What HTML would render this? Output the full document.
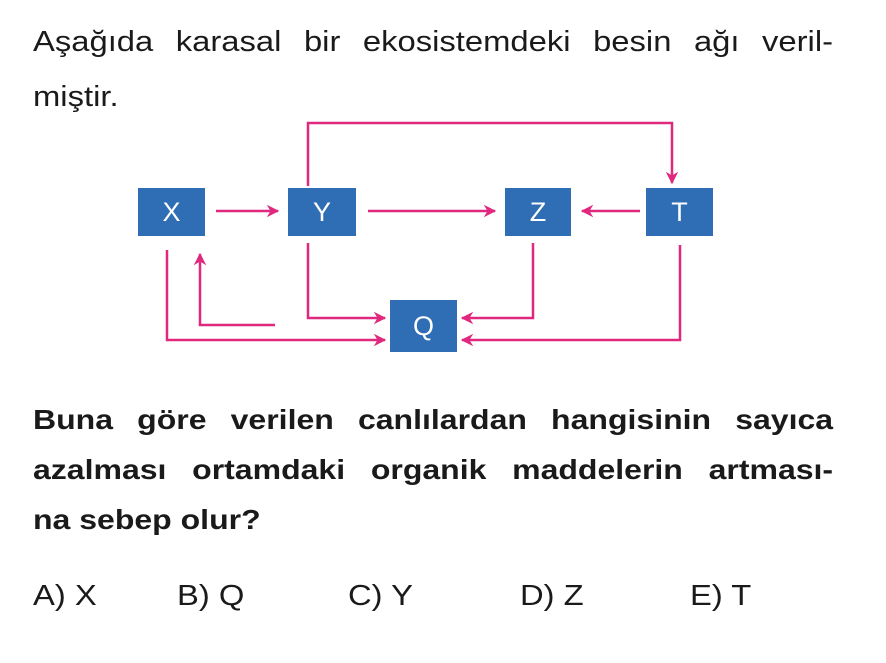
<!DOCTYPE html>
<html><head><meta charset="utf-8"><style>
body{margin:0;width:886px;height:663px;background:#fff;position:relative;font-family:"Liberation Sans",Arial,sans-serif;color:#1a1a1a;overflow:hidden}
.l{position:absolute;left:33px;width:708px;font-size:29px;line-height:32px;white-space:nowrap;transform:scaleX(1.13);transform-origin:0 0}
.j{text-align:justify;text-align-last:justify}
.b{font-weight:bold;font-size:28px;width:700px;transform:scaleX(1.143)}
.box{position:absolute;background:#2f6db5;color:#fff;font-size:27px;display:flex;align-items:center;justify-content:center}
.a{position:absolute;font-size:29px;top:580px;transform:scaleX(1.13);transform-origin:0 0}
</style></head><body>
<div class="l j" style="top:26px">Aşağıda karasal bir ekosistemdeki besin ağı veril-</div>
<div class="l" style="top:81px">miştir.</div>

<svg width="886" height="663" style="position:absolute;left:0;top:0" fill="none" stroke="#e0287f" stroke-width="2.5">
<defs><marker id="m" viewBox="0 0 10 10" refX="9" refY="5" markerWidth="5" markerHeight="5" orient="auto"><path d="M0,0 L10,5 L0,10 L3,5Z" fill="#e0287f" stroke="none"/></marker></defs>
<path d="M308,186 V123 H672 V183" marker-end="url(#m)"/>
<path d="M216,211 H278" marker-end="url(#m)"/>
<path d="M368,211 H495" marker-end="url(#m)"/>
<path d="M640,211 H582" marker-end="url(#m)"/>
<path d="M533,243 V318 H462" marker-end="url(#m)"/>
<path d="M308,243 V318 H385" marker-end="url(#m)"/>
<path d="M167,250 V340 H385" marker-end="url(#m)"/>
<path d="M275,325 H200 V254" marker-end="url(#m)"/>
<path d="M680,245 V340 H462" marker-end="url(#m)"/>
</svg>
<div class="box" style="left:138px;top:188px;width:67px;height:48px">X</div>
<div class="box" style="left:288px;top:188px;width:68px;height:48px">Y</div>
<div class="box" style="left:505px;top:188px;width:66px;height:48px">Z</div>
<div class="box" style="left:646px;top:188px;width:67px;height:48px">T</div>
<div class="box" style="left:390px;top:300px;width:67px;height:52px">Q</div>

<div class="l j b" style="top:404px">Buna göre verilen canlılardan hangisinin sayıca</div>
<div class="l j b" style="top:454px">azalması ortamdaki organik maddelerin artması-</div>
<div class="l b" style="top:504px">na sebep olur?</div>

<div class="a" style="left:33px">A) X</div>
<div class="a" style="left:177px">B) Q</div>
<div class="a" style="left:348px">C) Y</div>
<div class="a" style="left:520px">D) Z</div>
<div class="a" style="left:690px">E) T</div>
</body></html>
